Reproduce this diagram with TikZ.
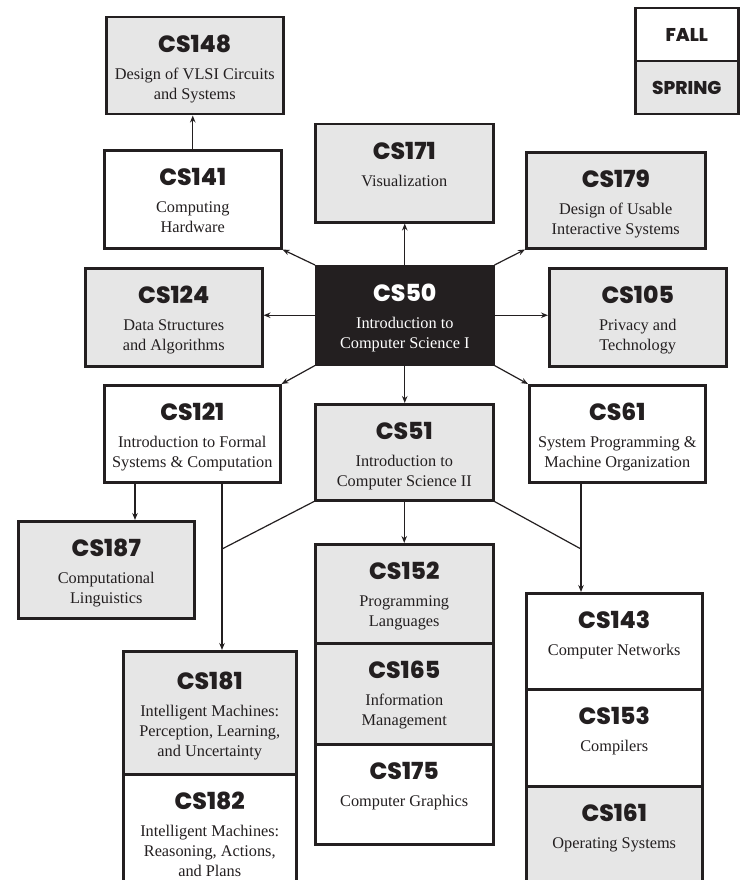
\documentclass[tikz,border=0pt]{standalone}
\usepackage{fontspec}
\setmainfont{Liberation Serif}
\newfontfamily\codefont{Poppins}[BoldFont={* ExtraBold}]
\usetikzlibrary{positioning,arrows.meta}

\definecolor{ink}{HTML}{231F20}
\definecolor{spring}{HTML}{E6E6E6}

\tikzset{
  course/.style={draw=ink, line width=2.5pt, anchor=north west, inner sep=0pt,
    minimum width=177pt, minimum height=97pt},
  ctext/.style={anchor=north, align=center, inner sep=0pt, text=ink,
    font=\fontsize{16.3}{20}\selectfont},
  link/.style={draw=ink, line width=1.2pt},
  arr/.style={link, -{Stealth[length=7pt,width=5.5pt]}}
}
\newcommand{\cs}[1]{{\codefont\bfseries\fontsize{23.5}{24}\selectfont #1}\\[7pt]}

\begin{document}
\begin{tikzpicture}[x=1pt,y=-1pt]
\useasboundingbox (0,0) rectangle (741,880);
\clip (0,0) rectangle (741,880);

% legend
\node[course, fill=white, minimum width=103pt, minimum height=53pt, text=ink,
  font=\codefont\bfseries\fontsize{18.5}{20}\selectfont] (fall) at (634,7) {FALL};
\node[course, fill=spring, minimum width=103pt, minimum height=53pt, text=ink,
  font=\codefont\bfseries\fontsize{18.5}{20}\selectfont] (spring) at (634,60) {SPRING};

% top rows
\node[course, fill=spring] (cs148) at (105,16) {};
\node[ctext, below=19pt of cs148.north] (cs148t) {\cs{CS148}Design of VLSI Circuits\\and Systems};

\node[course, fill=white, minimum height=98pt] (cs141) at (103,149) {};
\node[ctext, below=19pt of cs141.north] (cs141t) {\cs{CS141}Computing\\Hardware};

\node[course, fill=spring, minimum width=178pt, minimum height=98pt] (cs171) at (314,123) {};
\node[ctext, below=19pt of cs171.north] (cs171t) {\cs{CS171}Visualization};

\node[course, fill=spring, minimum width=179pt, minimum height=96pt] (cs179) at (525,151) {};
\node[ctext, below=19pt of cs179.north] (cs179t) {\cs{CS179}Design of Usable\\Interactive Systems};

\node[course, fill=spring, minimum height=98pt] (cs124) at (84,267) {};
\node[ctext, below=19pt of cs124.north] (cs124t) {\cs{CS124}Data Structures\\and Algorithms};

\node[course, fill=ink, minimum height=98pt] (cs50) at (315,265) {};
\node[ctext, text=white, below=19pt of cs50.north] (cs50t) {\cs{CS50}Introduction to\\Computer Science I};

\node[course, fill=spring, minimum height=98pt] (cs105) at (548,267) {};
\node[ctext, below=19pt of cs105.north] (cs105t) {\cs{CS105}Privacy and\\Technology};

% second year
\node[course, fill=white, minimum width=176pt] (cs121) at (103,384) {};
\node[ctext, below=19pt of cs121.north] (cs121t) {\cs{CS121}Introduction to Formal\\Systems \& Computation};

\node[course, fill=spring, minimum width=178pt, minimum height=96pt] (cs51) at (314,403) {};
\node[ctext, below=19pt of cs51.north] (cs51t) {\cs{CS51}Introduction to\\Computer Science II};

\node[course, fill=white, minimum width=176pt] (cs61) at (528,384) {};
\node[ctext, below=19pt of cs61.north] (cs61t) {\cs{CS61}System Programming \&\\Machine Organization};

\node[course, fill=spring, minimum width=176pt] (cs187) at (17,520) {};
\node[ctext, below=19pt of cs187.north] (cs187t) {\cs{CS187}Computational\\Linguistics};

% stacks
\node[course, fill=spring, minimum width=173pt, minimum height=123pt] (cs181) at (122,650) {};
\node[ctext, below=22pt of cs181.north] (cs181t) {\cs{CS181}Intelligent Machines:\\Perception, Learning,\\and Uncertainty};
\node[course, fill=white, minimum width=173pt, minimum height=125pt] (cs182) at (122,773) {};
\node[ctext, below=19pt of cs182.north] (cs182t) {\cs{CS182}Intelligent Machines:\\Reasoning, Actions,\\and Plans};

\node[course, fill=spring, minimum width=178pt, minimum height=99pt] (cs152) at (314,543) {};
\node[ctext, below=19pt of cs152.north] (cs152t) {\cs{CS152}Programming\\Languages};
\node[course, fill=spring, minimum width=178pt, minimum height=101pt] (cs165) at (314,642) {};
\node[ctext, below=19pt of cs165.north] (cs165t) {\cs{CS165}Information\\Management};
\node[course, fill=white, minimum width=178pt, minimum height=100pt] (cs175) at (314,743) {};
\node[ctext, below=19pt of cs175.north] (cs175t) {\cs{CS175}Computer Graphics};

\node[course, fill=white, minimum width=176pt, minimum height=96pt] (cs143) at (525,592) {};
\node[ctext, below=19pt of cs143.north] (cs143t) {\cs{CS143}Computer Networks};
\node[course, fill=white, minimum width=176pt] (cs153) at (525,688) {};
\node[ctext, below=19pt of cs153.north] (cs153t) {\cs{CS153}Compilers};
\node[course, fill=spring, minimum width=176pt, minimum height=110pt] (cs161) at (525,785) {};
\node[ctext, below=19pt of cs161.north] (cs161t) {\cs{CS161}Operating Systems};

% arrows out of CS50
\draw[arr] (cs141.north) -- (cs141.north |- cs148.south);
\draw[arr] (cs50.north) -- (cs50.north |- cs171.south);
\draw[arr] (cs50.north west) -- (cs141.south east);
\draw[arr] (cs50.north east) -- (cs179.south west);
\draw[arr] (cs50.west) -- (cs50.west -| cs124.east);
\draw[arr] (cs50.east) -- (cs50.east -| cs105.west);
\draw[arr] (cs50.south west) -- (cs121.north east);
\draw[arr] (cs50.south east) -- (cs61.north west);
\draw[arr] (cs50.south) -- (cs50.south |- cs51.north);

% joins below CS121, CS51 and CS61
\coordinate (jl) at (222,549);
\coordinate (jr) at (581,549);
\coordinate (kl) at (135,500);
\draw[arr] (cs121.south -| kl) -- (cs187.north -| kl);
\draw[arr] (cs121.south -| jl) -- (jl) -- (cs181.north -| jl);
\draw[arr] (cs61.south -| jr) -- (jr) -- (cs143.north -| jr);
\draw[link] (cs51.south west) -- (jl);
\draw[link] (cs51.south east) -- (jr);
\draw[arr] (cs51.south) -- (cs51.south |- cs152.north);
\end{tikzpicture}
\end{document}
